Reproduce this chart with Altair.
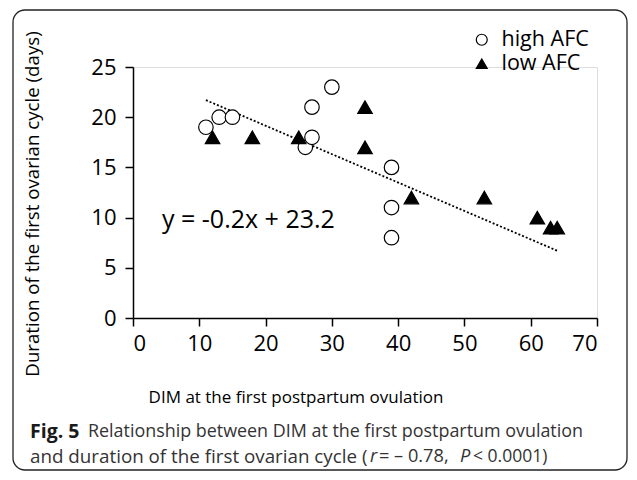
import altair as alt
import pandas as pd

# ---- data ----
high_x = [11, 13, 15, 26, 27, 27, 30, 39, 39, 39]
high_y = [19, 20, 20, 17, 18, 21, 23, 15, 11, 8]
low_x = [12, 18, 25, 35, 35, 42, 53, 61, 63, 64]
low_y = [18, 18, 18, 21, 17, 12, 12, 10, 9, 9]
groups = ["high AFC", "low AFC"]
trend_x = [11, 64]
trend_y = [21.7, 6.7]
x_ticks = [0, 10, 20, 30, 40, 50, 60, 70]
y_ticks = [0, 5, 10, 15, 20, 25]
equation = "y = -0.2x + 23.2"
x_title = "DIM at the first postpartum ovulation"
y_title = "Duration of the first ovarian cycle (days)"
cap_bold = "Fig. 5"
cap_line1 = "Relationship between DIM at the first postpartum ovulation"
cap_line2 = "and duration of the first ovarian cycle ("
cap_r = "r"
cap_mid = "= – 0.78,"
cap_p = "P"
cap_end = "< 0.0001)"

FONT = "Open Sans"

pts = pd.DataFrame({
    "x": high_x + low_x,
    "y": high_y + low_y,
    "g": [groups[0]] * len(high_x) + [groups[1]] * len(low_x),
})
trend = pd.DataFrame({"x": trend_x, "y": trend_y})
one = pd.DataFrame({"a": [0]})

xs = alt.Scale(domain=[0, 70], nice=False, zero=False)
ys = alt.Scale(domain=[0, 25], nice=False, zero=False)

frame = alt.Chart(one).mark_rect(
    fillOpacity=0, stroke="#222", strokeWidth=1.3, cornerRadius=12
).encode(
    x=alt.value(-120), x2=alt.value(494), y=alt.value(-57), y2=alt.value(403)
)

axis_common = dict(title=None, grid=False, domainColor="black", domainWidth=1.5,
                   tickColor="black", tickWidth=1.5, tickSize=8, labelFontSize=22,
                   labelFont=FONT, labelColor="black")

line = alt.Chart(trend).mark_line(
    color="black", strokeWidth=1.8, strokeDash=[2, 2]
).encode(
    x=alt.X("x:Q", scale=xs, axis=alt.Axis(values=x_ticks, labelPadding=7, **axis_common)),
    y=alt.Y("y:Q", scale=ys, axis=alt.Axis(values=y_ticks, labelPadding=9, **axis_common)),
)

leg = alt.Legend(title=None, orient="none", legendX=338, legendY=-38,
                 labelFontSize=21.5, labelFont=FONT, labelColor="black",
                 symbolSize=120, symbolStrokeWidth=1.2, rowPadding=1, labelOffset=9)

points = alt.Chart(pts).mark_point(filled=True, size=210, strokeWidth=1.2, opacity=1).encode(
    x=alt.X("x:Q", scale=xs),
    y=alt.Y("y:Q", scale=ys),
    shape=alt.Shape("g:N", scale=alt.Scale(domain=groups, range=["circle", "triangle-up"]),
                    legend=leg),
    fill=alt.Fill("g:N", scale=alt.Scale(domain=groups, range=["white", "black"]),
                  legend=leg),
    stroke=alt.Stroke("g:N", scale=alt.Scale(domain=groups, range=["black", "black"]),
                      legend=leg),
)


def txt(s, x, y, size, **kw):
    return alt.Chart(one).mark_text(text=s, font=kw.pop("font", FONT), fontSize=size,
                                    baseline="middle", **kw).encode(
        x=alt.value(x), y=alt.value(y))


CAP = 18.2
eq = txt(equation, 29, 153, 25, align="left", color="black")
xt = txt(x_title, 163, 331, 17, align="center", color="black")
yt = txt(y_title, -100, 137, 18.7, align="center", color="black", angle=270)
c1 = txt(cap_bold, -103, 365, 19.5, align="left", color="#1a1a1a", fontWeight="bold")
c2 = txt(cap_line1, -45, 365, 17.9, align="left", color="#333")
c3 = txt(cap_line2, -103, 390, 18.8, align="left", color="#333")
c4 = txt(cap_r, 237, 390, CAP, align="left", color="#333", fontStyle="italic")
c5 = txt(cap_mid, 246, 390, CAP, align="left", color="#333")
c6 = txt(cap_p, 327, 390, CAP, align="left", color="#333", fontStyle="italic")
c7 = txt(cap_end, 340, 390, 17.5, align="left", color="#333")

chart = alt.layer(frame, line, points, eq, xt, yt, c1, c2, c3, c4, c5, c6, c7).properties(
    width=464, height=251,
    autosize=alt.AutoSizeParams(type="none"),
    padding={"left": 125, "top": 59, "right": 32, "bottom": 154},
).configure_view(stroke=None).configure(background="white")

chart.save("out.html", embed_options={"renderer": "svg", "actions": False})
